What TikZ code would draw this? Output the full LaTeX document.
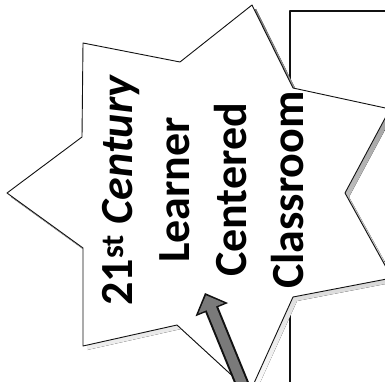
\documentclass[tikz,border=0pt]{standalone}
\usepackage{fontspec}
\setmainfont{Carlito}
\usetikzlibrary{arrows.meta,calc}

\begin{document}
\begin{tikzpicture}[x=1pt,y=1pt,line cap=round,line join=round]
  \definecolor{edge}{HTML}{111111}
  \definecolor{shade}{HTML}{A8A8A8}
  \definecolor{arr}{HTML}{7A7A7A}
  \tikzset{
    starline/.style={draw=edge,line width=0.9pt,fill=white},
    boxline/.style={draw=edge,line width=1.2pt},
    bigtext/.style={font=\bfseries\fontsize{46}{57}\selectfont,align=center,
      inner sep=0pt,rotate=90}
  }

  \useasboundingbox (0,0) rectangle (385,381);
  \fill[white] (0,0) rectangle (385,381);

  % box behind the star (runs off to the right and bottom)
  \coordinate (BX0) at (290,-5);
  \coordinate (BX1) at (290,370);
  \coordinate (BX2) at (392,370);
  \draw[boxline] (BX0) -- (BX1) -- (BX2);

  % seven-point star: outer tips and inner corners
  \coordinate (T)  at (252,376);
  \coordinate (I1) at (180,319);
  \coordinate (UL) at (83,338);
  \coordinate (I2) at (82,244);
  \coordinate (L)  at (7,188);
  \coordinate (I3) at (83,133);
  \coordinate (LL) at (83,35);
  \coordinate (I4) at (177,56);
  \coordinate (B)  at (250,-11);
  \coordinate (I5) at (293,84);
  \coordinate (LR) at (392,103);
  \coordinate (I6) at (345,188);
  \coordinate (UR) at (390,272);
  \coordinate (I7) at (293,293);

  % drop shadow
  \fill[shade] ([shift={(4,-4)}]T) -- ([shift={(4,-4)}]I1) -- ([shift={(4,-4)}]UL)
    -- ([shift={(4,-4)}]I2) -- ([shift={(4,-4)}]L) -- ([shift={(4,-4)}]I3)
    -- ([shift={(4,-4)}]LL) -- ([shift={(4,-4)}]I4) -- ([shift={(4,-4)}]B)
    -- ([shift={(4,-4)}]I5) -- ([shift={(4,-4)}]LR) -- ([shift={(4,-4)}]I6)
    -- ([shift={(4,-4)}]UR) -- ([shift={(4,-4)}]I7) -- cycle;
  % star
  \path[starline] (T) -- (I1) -- (UL) -- (I2) -- (L) -- (I3) -- (LL) -- (I4)
    -- (B) -- (I5) -- (LR) -- (I6) -- (UR) -- (I7) -- cycle;

  % title, turned on its side
  \node[bigtext] (title) at (203,191)
    {21\textsuperscript{st}\ \textit{Century}\\Learner\\Centered\\Classroom};

  % thick arrow into the star
  \coordinate (atail) at (245,-10);
  \coordinate (atip) at (205,88);
  \draw[edge,line width=14pt,-{Triangle[length=18pt,width=34pt]}] (atail) -- (atip);
  \draw[arr,line width=10pt,-{Triangle[length=14pt,width=27pt]},shorten >=2.5pt]
    (atail) -- (atip);
\end{tikzpicture}
\end{document}
